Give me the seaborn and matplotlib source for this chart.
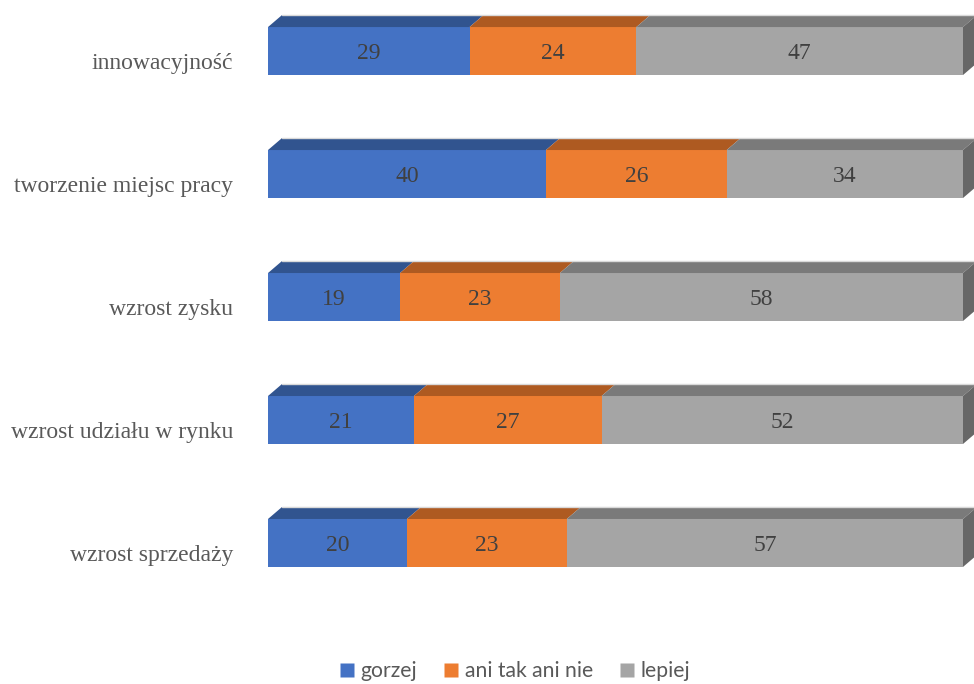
import matplotlib.pyplot as plt
import seaborn as sns
import pandas as pd
import numpy as np
from matplotlib.patches import Polygon
from matplotlib.lines import Line2D

# Data (percent shares)
categories = ['innowacyjność', 'tworzenie miejsc pracy', 'wzrost zysku',
              'wzrost udziału w rynku', 'wzrost sprzedaży']
gorzej = [29, 40, 19, 21, 20]
ani_tak_ani_nie = [24, 26, 23, 27, 23]
lepiej = [47, 34, 58, 52, 57]
series_names = ['gorzej', 'ani tak ani nie', 'lepiej']

front_colors = ['#4472C4', '#ED7D31', '#A5A5A5']
top_colors = ['#31548F', '#AE5A21', '#7A7A7A']
side_color = '#676767'

sns.set_style('white')
plt.rcParams['font.family'] = ['Liberation Serif', 'DejaVu Serif']

df = pd.DataFrame({'category': categories, 'gorzej': gorzej,
                   'ani tak ani nie': ani_tak_ani_nie, 'lepiej': lepiej})
# cumulative ends of the stacked segments
cum = df[series_names].cumsum(axis=1)

fig = plt.figure(figsize=(9.74, 6.84), dpi=100)
ax = fig.add_axes([268 / 974, 74 / 684, 695 / 974, 610 / 684])

bar_w = 0.39
# draw the stack back to front so each shorter bar covers the longer one
for name, col in zip(series_names[::-1], front_colors[::-1]):
    sns.barplot(x=cum[name], y=df['category'], orient='h', color=col,
                width=bar_w, saturation=1, ax=ax, linewidth=0)

ax.set_xlim(0, 100)
ax.set_ylim(4.545, -0.415)

# 3D depth (pixels converted to data units)
dx = 14 * 100 / 695
dy = 12 / 123
for i in range(len(categories)):
    y_top = i - bar_w / 2
    y_bot = i + bar_w / 2
    left = 0
    for j, name in enumerate(series_names):
        right = cum.loc[i, name]
        ax.add_patch(Polygon([(left, y_top), (right, y_top),
                              (right + dx, y_top - dy), (left + dx, y_top - dy)],
                             closed=True, facecolor=top_colors[j],
                             edgecolor='none', clip_on=False))
        ax.text((left + right) / 2, i + 0.02, f'{df.loc[i, name]:g}', ha='center',
                va='center', fontsize=17, color='#404040')
        left = right
    ax.plot([dx, 100 + dx], [y_top - dy, y_top - dy], color='#D9D9D9',
            lw=1, clip_on=False)
    ax.add_patch(Polygon([(100, y_top), (100 + dx, y_top - dy),
                          (100 + dx, y_bot - dy), (100, y_bot)],
                         closed=True, facecolor=side_color,
                         edgecolor='none', clip_on=False))

sns.despine(ax=ax, left=True, bottom=True)
ax.set_xticks([])
ax.set_yticks(np.arange(len(categories)) + 0.085, categories)
ax.tick_params(axis='y', length=0, pad=25, labelsize=17, labelcolor='#595959')
ax.set_xlabel('')
ax.set_ylabel('')

handles = [Line2D([], [], marker='s', linestyle='none', markersize=10,
                  markerfacecolor=c, markeredgecolor='none') for c in front_colors]
fig.legend(handles, series_names, loc='center', ncol=3, frameon=False,
           bbox_to_anchor=(513 / 974, 1 - 671 / 684), handletextpad=0.15,
           columnspacing=1.1, handlelength=1.0,
           prop={'family': 'Lato', 'size': 15.2}, labelcolor='#595959')

fig.savefig('out.png', dpi=100)
